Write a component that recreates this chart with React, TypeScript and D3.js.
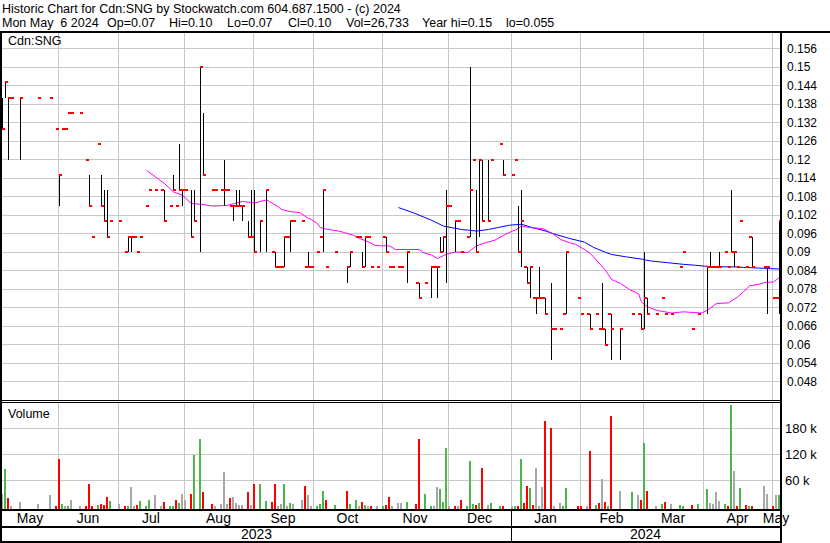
import React from 'react';
import * as d3 from 'd3';

// ---- data (slot index = trading weekday from 2023-05-09) ----
const dayIdx = [0,1,2,3,6,12,16,18,19,20,21,22,23,26,28,29,30,32,33,34,35,36,39,41,42,43,44,45,46,48,49,51,53,54,56,57,58,59,60,61,63,64,66,67,70,71,73,74,75,76,77,78,79,80,82,83,84,86,88,90,91,92,93,94,95,96,97,100,101,102,103,105,106,107,108,111,115,116,118,119,120,121,122,123,125,127,128,129,130,132,133,135,138,139,141,143,144,145,146,147,148,149,151,152,153,155,156,157,158,159,160,162,163,166,167,170,171,172,173,174,175,176,177,178,179,180,181,183,184,186,187,188,192,193,195,196,198,199,200,201,202,203,206,210,212,213,214,215,218,220,221,223,226,227,230,232,235,236,237,238,239,241,242,243,244,245,246,248,249,250,254,255,257,258,259];
const highs = [.14,.145,.14,.14,.14,.14,.14,.13,.115,.13,.13,.135,.135,.135,.12,.115,.095,.125,.115,.11,.11,.10,.10,.09,.095,.095,.095,.09,.095,.105,.11,.11,.11,.11,.105,.115,.105,.125,.11,.11,.11,.11,.15,.135,.11,.11,.11,.12,.11,.105,.105,.11,.11,.105,.10,.11,.11,.10,.11,.09,.09,.085,.085,.095,.095,.10,.10,.10,.085,.09,.085,.09,.095,.11,.085,.09,.085,.09,.095,.095,.09,.095,.095,.085,.085,.095,.095,.085,.085,.085,.085,.09,.08,.08,.08,.085,.085,.085,.095,.095,.11,.105,.10,.10,.09,.095,.15,.12,.11,.12,.12,.12,.12,.125,.12,.115,.12,.105,.11,.085,.085,.085,.075,.075,.085,.075,.075,.08,.065,.065,.07,.09,.075,.07,.07,.07,.07,.065,.08,.065,.07,.07,.065,.07,.07,.07,.09,.075,.07,.075,.07,.07,.085,.09,.065,.07,.085,.09,.085,.085,.09,.09,.085,.11,.09,.085,.10,.085,.095,.095,.085,.085,.075,.075,.10];
const lows = [.13,.14,.12,.14,.12,.14,.14,.13,.105,.13,.13,.135,.135,.135,.12,.105,.095,.125,.105,.10,.095,.10,.10,.09,.09,.09,.095,.09,.095,.105,.11,.11,.11,.10,.105,.11,.105,.11,.105,.11,.095,.10,.09,.115,.11,.11,.11,.105,.11,.105,.10,.105,.105,.10,.095,.095,.09,.09,.09,.09,.085,.085,.085,.085,.095,.09,.10,.10,.085,.085,.085,.09,.095,.09,.085,.09,.08,.085,.095,.095,.085,.085,.095,.085,.085,.095,.09,.085,.085,.085,.085,.08,.08,.075,.08,.075,.085,.075,.09,.09,.08,.105,.09,.10,.09,.095,.095,.12,.09,.095,.10,.10,.12,.125,.115,.115,.12,.09,.085,.085,.08,.075,.075,.07,.075,.075,.07,.055,.065,.065,.07,.07,.075,.07,.07,.065,.07,.065,.065,.06,.07,.055,.055,.07,.07,.065,.065,.07,.07,.075,.07,.07,.085,.09,.065,.07,.07,.085,.085,.085,.085,.09,.085,.09,.085,.085,.10,.085,.095,.085,.085,.07,.075,.075,.07];
const closes = [.13,.145,.14,.14,.14,.14,.14,.13,.115,.13,.13,.135,.135,.135,.12,.105,.095,.125,.105,.10,.095,.10,.10,.09,.095,.095,.095,.09,.095,.105,.11,.11,.11,.10,.105,.11,.105,.11,.11,.11,.095,.10,.15,.115,.11,.11,.11,.11,.11,.105,.105,.105,.105,.105,.095,.095,.09,.10,.11,.09,.085,.085,.085,.095,.095,.10,.10,.10,.085,.085,.085,.09,.095,.11,.085,.09,.085,.09,.095,.095,.085,.095,.095,.085,.085,.095,.09,.085,.085,.085,.085,.09,.08,.075,.08,.085,.085,.085,.09,.095,.105,.105,.10,.10,.09,.095,.11,.12,.09,.12,.10,.10,.12,.125,.115,.115,.12,.09,.10,.085,.08,.085,.075,.075,.075,.075,.07,.065,.065,.065,.07,.09,.075,.07,.07,.065,.07,.065,.065,.06,.07,.065,.065,.07,.07,.065,.075,.07,.07,.075,.07,.07,.085,.09,.065,.07,.085,.085,.085,.085,.085,.09,.085,.09,.09,.085,.10,.085,.095,.085,.085,.085,.075,.075,.10];
const volumes = [28000,86000,20000,2000,10000,5000,26000,2000,109000,5000,2000,1000,14500,1000,1000,51000,2000,3000,5000,4000,21000,12000,5000,1500,2000,44500,1500,4000,12000,1500,16000,26000,1500,10000,1000,1500,14000,7000,28000,14000,28000,118000,155000,33000,5000,1000,5000,79000,5000,19000,21000,7000,3000,3000,33000,3000,51000,51000,12000,10000,53000,1000,5000,51000,1500,7000,5000,14000,47000,26000,1500,1500,5000,35000,14000,3000,35000,5000,16000,1500,10000,3000,1500,1500,1000,1000,4000,21000,1000,7000,7000,10000,5000,155000,28000,1500,1000,44500,40000,10000,134000,1000,1500,1000,16000,1500,104500,5000,3000,7000,88000,4000,7000,1000,1000,1000,1000,2000,109000,7000,47000,42000,4000,88000,1500,44500,197000,181000,1000,7000,2000,42000,1000,1500,1500,127600,4000,7000,63000,10000,1000,208000,35000,33000,26000,16000,146000,35000,1500,5000,10000,5000,4000,1500,4000,5000,40000,7000,5000,33000,12000,5000,2000,234000,81000,1000,42000,4000,1000,2000,47000,28000,1000,26000,26733];

// moving averages (slot index, value)
const maShortIdx = [48,54,57,60,63,66,70,75,80,84,88,89,92,93,96,99,102,103,105,106,108,112,114,117,119,122,124,126,129,131,139,140,143,145,148,151,155,158,161,164,167,170,171,173,176,180,183,186,189,191,194,196,198,201,203,206,209,212,213,215,218,223,227,233,235,238,242,245,247,249,252,254,257,259];
const maShortVal = [.1165,.1122,.1095,.1084,.1057,.1055,.1049,.1051,.1064,.1059,.1069,.1064,.1046,.1038,.1031,.1028,.1009,.1005,.0992,.0979,.0974,.0968,.0963,.0954,.0944,.0933,.0922,.0920,.0920,.0908,.0908,.0899,.0890,.0879,.0893,.0900,.0898,.0920,.0930,.0938,.0954,.0968,.0971,.0984,.0979,.0976,.0962,.0941,.0930,.0925,.0908,.0895,.0873,.0841,.0811,.0798,.0778,.0765,.0738,.0722,.0711,.0702,.0706,.0702,.0711,.0733,.0735,.0754,.0771,.0790,.0795,.0801,.0803,.0817];
const maLongIdx = [132,137,143,147,153,158,162,165,169,173,176,181,184,189,194,197,201,203,208,213,216,222,227,231,234,238,243,247,252,256,259];
const maLongVal = [.1044,.1027,.1003,.0984,.0973,.0968,.0973,.0979,.0987,.0990,.0981,.0968,.0958,.0944,.0932,.0915,.0899,.0892,.0884,.0877,.0871,.0865,.0860,.0857,.0854,.0852,.0852,.0850,.0848,.0846,.0845];

const priceTicks = [0.156,0.15,0.144,0.138,0.132,0.126,0.12,0.114,0.108,0.102,0.096,0.09,0.084,0.078,0.072,0.066,0.06,0.054,0.048];
const priceTickLabels = ['0.156','0.15','0.144','0.138','0.132','0.126','0.12','0.114','0.108','0.102','0.096','0.09','0.084','0.078','0.072','0.066','0.06','0.054','0.048'];
const volTicks = [60000,120000,180000];
const volTickLabels = ['60 k','120 k','180 k'];
const monthStartIdx = [19,39,61,84,104,127,149,170,193,214,234,257];
const monthLabels = ['May','Jun','Jul','Aug','Sep','Oct','Nov','Dec','Jan','Feb','Mar','Apr','May'];
const yearLabels = ['2023','2024'];
const yearStartIdx = 170;

const title1 = 'Historic Chart for Cdn:SNG by Stockwatch.com 604.687.1500 - (c) 2024';
const title2Fields = ['Mon May  6 2024', 'Op=0.07', 'Hi=0.10', 'Lo=0.07', 'Cl=0.10', 'Vol=26,733', 'Year hi=0.15', 'lo=0.055'];
const title2X = [2, 107, 169, 227, 288, 346, 422, 506];

const FONT = '"Liberation Sans", Arial, sans-serif';

export default function App() {
  const W = 830, H = 543;
  const left = 2, right = 780;
  const x = d3.scaleLinear().domain([0, 259]).range([2.5, 779.5]);
  const y = d3.scaleLinear().domain([0.048, 0.156]).range([381.5, 48.5]);
  const yv = d3.scaleLinear().domain([0, 180000]).range([506.5, 428.5]);
  const gridX = (i: number) => Math.round(x(i) - 1.5);

  const lineGen = d3.line<[number, number]>().x(d => x(d[0])).y(d => y(d[1]));
  const maShort = lineGen(maShortIdx.map((d, k) => [d, maShortVal[k]] as [number, number])) || '';
  const maLong = lineGen(maLongIdx.map((d, k) => [d, maLongVal[k]] as [number, number])) || '';

  const bounds = [left, ...monthStartIdx.map(gridX), right];

  return (
    <svg width={W} height={H} style={{ position: 'absolute', left: 0, top: 0, background: '#fff' }} fontFamily={FONT}>
      <rect x={0} y={0} width={W} height={H} fill="#fff" />
      <text x={2} y={13} fontSize={12.5} fill="#000">{title1}</text>
      {title2Fields.map((t, k) => (
        <text key={'t2' + k} x={title2X[k]} y={27} fontSize={12.5} fill="#000" xmlSpace="preserve" style={{ whiteSpace: 'pre' }}>{t}</text>
      ))}

      {/* grid */}
      <g shapeRendering="crispEdges" stroke="#c8c8c8" strokeWidth={1}>
        {priceTicks.map((t, k) => <line key={'h' + k} x1={left} x2={right} y1={y(t)} y2={y(t)} />)}
        {monthStartIdx.map((m, k) => <line key={'v' + k} x1={gridX(m) + 0.5} x2={gridX(m) + 0.5} y1={33} y2={400} />)}
        {volTicks.map((t, k) => <line key={'vh' + k} x1={left} x2={right} y1={yv(t)} y2={yv(t)} />)}
        {monthStartIdx.map((m, k) => <line key={'vv' + k} x1={gridX(m) + 0.5} x2={gridX(m) + 0.5} y1={403} y2={509} />)}
      </g>

      <text x={8} y={45} fontSize={12.5} fill="#000">Cdn:SNG</text>
      <text x={8} y={418} fontSize={12.5} fill="#000">Volume</text>

      {/* moving averages */}
      <path d={maLong} fill="none" stroke="#0000ff" strokeWidth={1} />
      <path d={maShort} fill="none" stroke="#ff00ff" strokeWidth={1} />

      {/* price bars */}
      <g shapeRendering="crispEdges">
        {dayIdx.map((d, k) => highs[k] > lows[k] ? (
          <rect key={'b' + k} x={Math.floor(x(d))} width={1} y={y(highs[k])} height={y(lows[k]) - y(highs[k])} fill="#000" />
        ) : null)}
        {dayIdx.map((d, k) => (
          <rect key={'c' + k} x={Math.floor(x(d))} width={3} y={y(closes[k]) - 1} height={2} fill="#ff0000" />
        ))}
      </g>

      {/* volume bars */}
      <g shapeRendering="crispEdges">
        {dayIdx.map((d, k) => {
          const prev = k > 0 ? closes[k - 1] : closes[k];
          const c = closes[k] > prev + 1e-9 ? '#4cb84c' : closes[k] < prev - 1e-9 ? '#ff0000' : '#a8a8a8';
          return <rect key={'v' + k} x={Math.floor(x(d)) - 1} width={2} y={yv(volumes[k])} height={509 - yv(volumes[k])} fill={c} />;
        })}
      </g>

      {/* frame */}
      <g shapeRendering="crispEdges" fill="#000">
        <rect x={0} y={31} width={W} height={2} />
        <rect x={0} y={31} width={2} height={H - 31} />
        <rect x={right} y={31} width={2} height={H - 31} />
        <rect x={0} y={400} width={right + 2} height={1} />
        <rect x={0} y={402} width={right + 2} height={1} />
        <rect x={0} y={509} width={right + 2} height={2} />
        <rect x={0} y={526} width={right + 2} height={2} />
        <rect x={0} y={541} width={right + 2} height={2} />
        <rect x={gridX(yearStartIdx)} y={509} width={1} height={34} />
      </g>

      {/* right axis labels */}
      {priceTicks.map((t, k) => (
        <text key={'pl' + k} x={787} y={y(t)} dy="0.35em" fontSize={12} fill="#000">{priceTickLabels[k]}</text>
      ))}
      {volTicks.map((t, k) => (
        <text key={'vl' + k} x={785} y={yv(t)} dy="0.35em" fontSize={13} fill="#000">{volTickLabels[k]}</text>
      ))}

      {/* month labels */}
      {monthLabels.map((m, k) => (
        <text key={'m' + k} x={(bounds[k] + bounds[k + 1]) / 2} y={523} textAnchor="middle" fontSize={14} fill="#000">{m}</text>
      ))}
      <text x={(left + gridX(yearStartIdx)) / 2} y={539} textAnchor="middle" fontSize={14} fill="#000">{yearLabels[0]}</text>
      <text x={(gridX(yearStartIdx) + right) / 2} y={539} textAnchor="middle" fontSize={14} fill="#000">{yearLabels[1]}</text>
    </svg>
  );
}
